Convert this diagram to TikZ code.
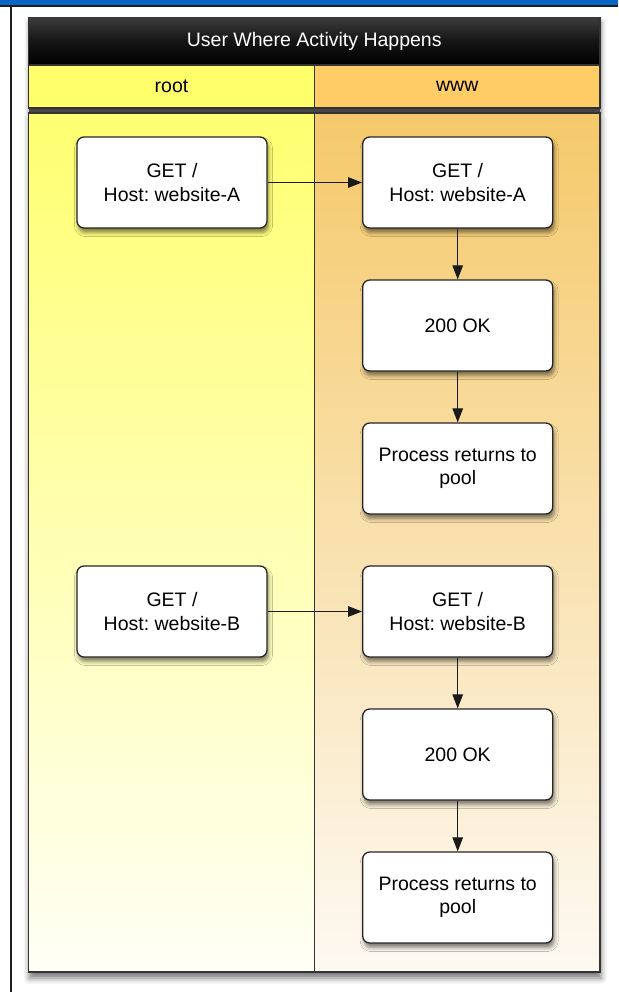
\documentclass[tikz,border=0pt]{standalone}
\usepackage{fontspec}
\setmainfont{Liberation Sans}
\usetikzlibrary{arrows.meta,shadows.blur}
\frenchspacing

\definecolor{barblue}{HTML}{0766C6}
\definecolor{frameline}{HTML}{1E1E1E}
\definecolor{laneline}{HTML}{333333}
\definecolor{boxline}{HTML}{262626}
\definecolor{arrowline}{HTML}{1A1A1A}
\definecolor{rootlane}{HTML}{FFFF6B}
\definecolor{wwwlane}{HTML}{FFCC66}
\definecolor{roottop}{HTML}{FFFF70}
\definecolor{rootbottom}{HTML}{FFFFF6}
\definecolor{wwwtop}{HTML}{F5C96A}
\definecolor{wwwbottom}{HTML}{FDF9F2}
\definecolor{titletop}{HTML}{3C3C3C}

\begin{document}
\begin{tikzpicture}[x=1pt,y=1pt,
  task/.style={draw=boxline, line width=1.3pt, fill=white, rounded corners=7pt,
    minimum width=190pt, minimum height=91pt, inner sep=0pt, align=center,
    font=\fontsize{19.5}{23.5}\selectfont,
    blur shadow={shadow xshift=1.5pt, shadow yshift=-4.5pt,
      shadow blur radius=4pt, shadow opacity=50}},
  flow/.style={draw=arrowline, line width=1.2pt, -{Triangle[length=14pt,width=10.5pt]}},
  lanehead/.style={draw=laneline, line width=1.3pt, minimum height=43pt,
    inner sep=0pt, font=\fontsize{19.5}{23.5}\selectfont},
  lanebody/.style={draw=laneline, line width=1.6pt, minimum height=859pt, inner sep=0pt},
]
\useasboundingbox (0,0) rectangle (618,-992);

% window frame: blue strip on top, dark rule below it and on the left
\fill[barblue] (0,0) rectangle (618,-5);
\fill[frameline] (0,-5) rectangle (618,-7);
\fill[frameline] (10,-5) rectangle (12,-992);

% shadows of the pool header and body
\path[fill=white, blur shadow={shadow xshift=1pt, shadow yshift=-5pt,
    shadow blur radius=5pt, shadow opacity=55}]
  (28.5,-17.5) rectangle (600,-108);
\path[fill=white, blur shadow={shadow xshift=1pt, shadow yshift=-6pt,
    shadow blur radius=6pt, shadow opacity=55}]
  (28.5,-113) rectangle (600,-972);

% pool title
\node[draw=laneline, line width=1.3pt, top color=titletop, bottom color=black,
  middle color=black!92, minimum width=571.5pt, minimum height=47.5pt, inner sep=0pt,
  text=white, font=\fontsize{19.5}{23.5}\selectfont]
  (title) at (314.25,-41.25) {User Where Activity Happens};

% lane headers
\node[lanehead, fill=rootlane, minimum width=286pt] (roothead) at (171.5,-86.5) {root};
\node[lanehead, fill=wwwlane, minimum width=285.5pt] (wwwhead) at (457.25,-86.5) {www};

% dark gap between header and body
\fill[black!72] (28.5,-108.6) rectangle (600,-112.4);

% lane bodies
\node[lanebody, top color=roottop, bottom color=rootbottom, minimum width=286pt]
  (rootbody) at (171.5,-542.5) {};
\node[lanebody, top color=wwwtop, bottom color=wwwbottom, minimum width=285.5pt]
  (wwwbody) at (457.25,-542.5) {};

% activities
\node[task] (rA)  at (172,-182.5)   {GET /\\Host: website-A};
\node[task] (wA)  at (457.7,-182.5) {GET /\\Host: website-A};
\node[task] (okA) at (457.7,-325.5) {200 OK};
\node[task] (pA)  at (457.7,-468.5) {Process returns to\\pool};
\node[task] (rB)  at (172,-611.5)   {GET /\\Host: website-B};
\node[task] (wB)  at (457.7,-611.5) {GET /\\Host: website-B};
\node[task] (okB) at (457.7,-754.5) {200 OK};
\node[task] (pB)  at (457.7,-897.5) {Process returns to\\pool};

% connectors
\draw[flow] (rA) -- (wA);
\draw[flow] (wA) -- (okA);
\draw[flow] (okA) -- (pA);
\draw[flow] (rB) -- (wB);
\draw[flow] (wB) -- (okB);
\draw[flow] (okB) -- (pB);
\end{tikzpicture}
\end{document}
